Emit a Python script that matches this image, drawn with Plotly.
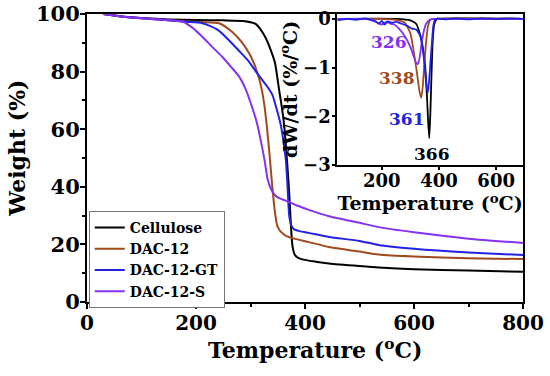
import plotly.graph_objects as go

# ---- TGA data (main plot) ----
cell_T = [30, 60, 100, 150, 200, 250, 290, 310, 327, 340, 345, 353, 358, 362, 367, 371, 374, 377, 381, 386, 395, 420, 444, 500, 535, 600, 700, 800]
cell_W = [100, 99.2, 98.6, 98.1, 97.9, 97.8, 97.5, 96.5, 92, 86, 83, 73, 67, 61, 49, 38, 27, 19.5, 16.5, 15.5, 14.8, 14.0, 13.4, 12.5, 12, 11.4, 10.9, 10.5]

dac12_T = [30, 60, 100, 150, 180, 210, 242, 265, 285, 300, 309, 318, 325, 330, 335, 340, 345, 349, 355, 365, 380, 407, 444, 500, 535, 600, 700, 800]
dac12_W = [100, 99.2, 98.5, 97.8, 97.4, 97.2, 96.8, 94, 90, 85.5, 81.6, 76, 69, 61, 51, 40, 31, 26.5, 24.5, 23, 22, 20.8, 19.1, 17.5, 16.5, 15.8, 15.2, 14.9]

gt_T = [30, 60, 100, 150, 180, 212, 240, 260, 280, 297, 310, 320, 330, 340, 348, 356, 361, 365, 368, 371, 375, 380, 390, 407, 444, 500, 535, 600, 700, 800]
gt_W = [100, 99.2, 98.5, 97.8, 97.3, 96.8, 94.5, 91, 87, 83.5, 80, 77.5, 75, 72, 67, 61, 55, 49, 40, 30, 26.5, 25.2, 24.6, 24, 22.6, 21.2, 19.8, 18.5, 17.2, 16.3]

s_T = [30, 60, 100, 150, 176, 195, 212, 230, 249, 265, 280, 292, 304, 312, 320, 326, 331, 337, 343, 350, 360, 371, 385, 407, 444, 500, 535, 600, 700, 800]
s_W = [100, 99.2, 98.5, 97.8, 97.3, 95, 92, 88.5, 85, 81.5, 78, 73.5, 67, 62, 55, 49, 43, 39.5, 37.5, 36.3, 35.5, 34.7, 33.5, 32, 29.8, 27.5, 26, 24.2, 22, 20.5]

# ---- DTG data (inset) ----
dc_T = [45, 250, 300, 320, 335, 345, 352, 358, 362, 366, 370, 374, 378, 383, 390, 400, 695]
dc_V = [0, 0, -0.03, -0.1, -0.35, -0.65, -1.0, -1.6, -2.1, -2.45, -1.9, -1.1, -0.45, -0.12, -0.02, 0, 0]

d12_T = [45, 200, 250, 280, 300, 315, 325, 332, 338, 343, 348, 353, 360, 368, 380, 695]
d12_V = [0, 0, -0.02, -0.08, -0.3, -0.8, -1.2, -1.5, -1.62, -1.4, -1.0, -0.6, -0.2, -0.03, 0, 0]

ds_T = [45, 120, 170, 185, 200, 215, 230, 245, 260, 280, 300, 312, 320, 326, 332, 338, 345, 355, 370, 400, 695]
ds_V = [0, 0, -0.02, -0.08, -0.12, -0.06, -0.1, -0.12, -0.2, -0.35, -0.58, -0.78, -0.9, -0.93, -0.8, -0.55, -0.3, -0.1, -0.01, 0, 0]

dgt_T = [45, 80, 110, 140, 160, 180, 190, 200, 210, 220, 235, 250, 270, 290, 305, 320, 335, 345, 352, 357, 361, 365, 370, 375, 380, 386, 395, 420, 460, 500, 550, 600, 650, 695]
dgt_V = [-0.03, 0.0, -0.02, 0.01, -0.02, -0.06, -0.1, -0.04, -0.12, -0.05, -0.08, -0.06, -0.1, -0.15, -0.2, -0.22, -0.35, -0.7, -1.1, -1.4, -1.52, -1.3, -0.9, -0.5, -0.15, -0.02, 0.01, -0.01, 0.01, -0.01, 0.01, 0.0, 0.01, 0.0]

names = ["Cellulose", "DAC-12", "DAC-12-GT", "DAC-12-S"]
colors = ["#000000", "#a04a1c", "#2222e6", "#8433f0"]

peak_labels = ["366", "338", "361", "326"]
peak_T = [374, 252, 287, 224]
peak_V = [-2.78, -1.22, -2.05, -0.48]

FONT = "DejaVu Serif"

fig = go.Figure()
main = [(cell_T, cell_W), (dac12_T, dac12_W), (gt_T, gt_W), (s_T, s_W)]
for (t, w), n, c in zip(main, names, colors):
    fig.add_trace(go.Scatter(x=t, y=w, mode="lines", name=n, line=dict(color=c, width=2, shape="spline", smoothing=0.6),
                             xaxis="x", yaxis="y"))

inset = [(dc_T, dc_V), (d12_T, d12_V), (ds_T, ds_V), (dgt_T, dgt_V)]
inset_colors = [colors[0], colors[1], colors[3], colors[2]]
for (t, v), c in zip(inset, inset_colors):
    fig.add_trace(go.Scatter(x=t, y=v, mode="lines", showlegend=False, line=dict(color=c, width=1.8, shape="spline", smoothing=0.5),
                             xaxis="x2", yaxis="y2"))

for lab, t, v, c in zip(peak_labels, peak_T, peak_V, colors):
    fig.add_annotation(x=t, y=v, xref="x2", yref="y2", text=lab, showarrow=False,
                       font=dict(family=FONT, size=17, color=c, weight="bold"))

# main axis titles placed as paper annotations
fig.add_annotation(x=0.523, y=-0.163, xref="paper", yref="paper", text="Temperature (<sup>o</sup>C)", showarrow=False,
                   xanchor="center", yanchor="middle", font=dict(family=FONT, size=22, color="black", weight="bold"))
fig.add_annotation(x=-0.161, y=0.535, xref="paper", yref="paper", text="Weight (%)", showarrow=False, textangle=-90,
                   xanchor="center", yanchor="middle", font=dict(family=FONT, size=22, color="black", weight="bold"))

axis_common = dict(showline=True, linecolor="black", linewidth=2, mirror=True, showgrid=False, zeroline=False,
                   ticks="outside", tickcolor="black", tickwidth=2, ticklen=5, automargin=False,
                   ticklabeloverflow="allow",
                   tickfont=dict(family=FONT, size=20, color="black", weight="bold"))
inset_common = {**axis_common, "tickfont": dict(family=FONT, size=18, color="black", weight="bold"), "ticklen": 3}

fig.update_layout(
    width=550, height=376,
    margin=dict(l=87, r=27, t=14, b=74, autoexpand=False),
    paper_bgcolor="white", plot_bgcolor="white",
    xaxis=dict(domain=[0, 1], range=[0, 800], tickvals=[0, 200, 400, 600, 800], ticklabelstandoff=-3,
               minor=dict(tickvals=[100, 300, 500, 700], ticks="outside", ticklen=3, tickcolor="black", tickwidth=2),
               anchor="y", **axis_common),
    yaxis=dict(domain=[0, 1], range=[0, 100], tickvals=[0, 20, 40, 60, 80, 100], ticklabelstandoff=-4,
               minor=dict(tickvals=[10, 30, 50, 70, 90], ticks="outside", ticklen=3, tickcolor="black", tickwidth=2),
               anchor="x", **{**axis_common, "tickfont": dict(family=FONT, size=21, color="black", weight="bold")}),
    xaxis2=dict(domain=[0.574, 1.0], range=[44, 694], tickvals=[200, 400, 600], ticklabelstandoff=-5,
                title=dict(text="Temperature (<sup>o</sup>C)", font=dict(family=FONT, size=19, color="black", weight="bold"), standoff=0),
                anchor="y2", **inset_common),
    yaxis2=dict(domain=[0.476, 1.0], range=[-3.0, 0.1], tickvals=[0, -1, -2, -3], ticklabelstandoff=-2,
                title=dict(text="dW/dt (%/<sup>o</sup>C)", font=dict(family=FONT, size=19, color="black", weight="bold"), standoff=0),
                anchor="x2", **inset_common),
    legend=dict(x=0.004, y=0.316, xanchor="left", yanchor="top", bgcolor="white", bordercolor="#777777", borderwidth=1,
                font=dict(family=FONT, size=14, color="black", weight="bold"), tracegroupgap=0, itemwidth=30),
    showlegend=True,
)

fig.write_html("out.html", config={"displayModeBar": False}, post_script="document.body.style.margin='0';")
